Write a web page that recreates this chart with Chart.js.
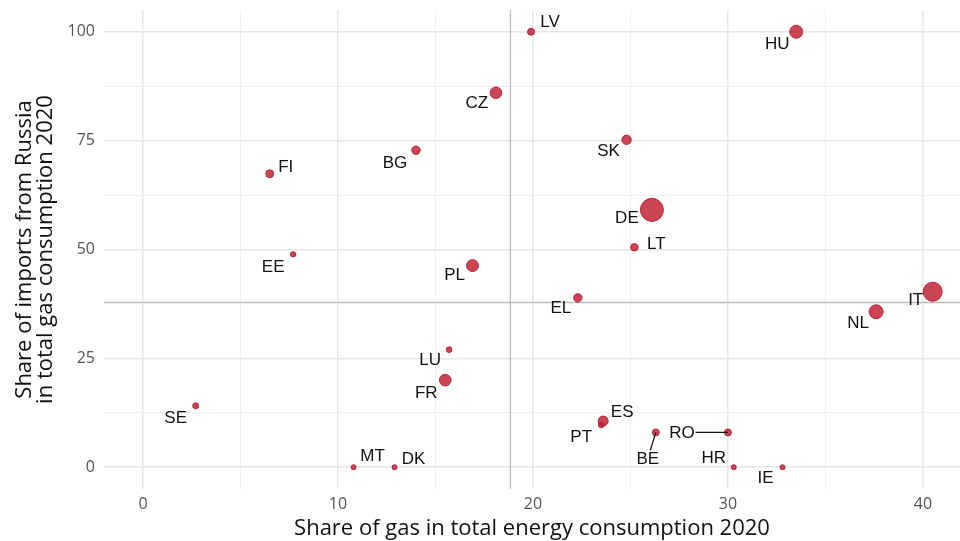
<!DOCTYPE html>
<html>
<head>
<meta charset="utf-8">
<script src="https://cdn.jsdelivr.net/npm/chart.js@4"></script>
<style>
  html, body { margin: 0; padding: 0; background: #fff; }
  #wrap { width: 960px; height: 541px; }
</style>
</head>
<body>
<div id="wrap"><canvas id="gasChart"></canvas></div>
<script>
// ############ data ############

const countries = ["LV", "HU", "CZ", "BG", "SK", "FI", "EE", "DE", "LT", "PL", "EL", "LU",
                   "FR", "PT", "ES", "MT", "DK", "SE", "BE", "RO", "HR", "IE", "NL", "IT"];
// share of gas in total energy consumption 2020 (%)
const gasShare = [19.9, 33.5, 18.1, 14.0, 24.8, 6.5, 7.7, 26.1, 25.2, 16.9, 22.3, 15.7,
                  15.5, 23.5, 23.6, 10.8, 12.9, 2.7, 26.3, 30.0, 30.3, 32.8, 37.6, 40.5];
// share of imports from Russia in total gas consumption 2020 (%)
const russiaShare = [100, 100, 86, 72.8, 75.2, 67.4, 48.9, 59.1, 50.5, 46.3, 38.9, 27.0,
                     20.0, 9.7, 10.6, 0, 0, 14.1, 8.0, 8.0, 0, 0, 35.7, 40.3];
// relative gas volume (bubble area)
const gasVolume = [16, 49, 40, 22, 27, 20, 10, 144, 18, 42, 22, 11,
                   40, 11, 30, 9, 9, 12, 16, 16, 9, 9, 56, 100];

const xTicks = [0, 10, 20, 30, 40];
const yTicks = [0, 25, 50, 75, 100];

// reference lines
const refX = 18.84;
const refY = 37.86;

// label nudges in px from the point centre (repel style)
const labelNudge = {
    LV: [19, -10], HU: [-19, 12], CZ: [-19, 10], BG: [-21, 12], SK: [-18, 11],
    FI: [16, -7], EE: [-20, 12], DE: [-25, 7], LT: [22, -4], PL: [-18, 9],
    EL: [-17, 9], LU: [-19, 10], FR: [-19, 12], ES: [19, -10], PT: [-20, 11],
    MT: [19, -12], DK: [19, -9], SE: [-20, 11], BE: [-8, 26], RO: [-46, 0],
    HR: [-20, -10], IE: [-17, 10], NL: [-18, 11], IT: [-17, 8],
};
const withLeader = ["BE", "RO"];

const bubbles = countries.map((c, i) => ({
    x: gasShare[i],
    y: russiaShare[i],
    r: Math.sqrt(gasVolume[i]) - 0.5,
    label: c,
}));

// ############ plugins ############

const refLines = {
    id: "refLines",
    beforeDatasetsDraw(chart) {
        const { ctx, chartArea, scales } = chart;
        const px = scales.x.getPixelForValue(refX);
        const py = scales.y.getPixelForValue(refY);
        ctx.save();
        ctx.strokeStyle = "#adadad";
        ctx.lineWidth = 1;
        ctx.beginPath();
        ctx.moveTo(px, chartArea.top);
        ctx.lineTo(px, chartArea.bottom);
        ctx.moveTo(chartArea.left, py);
        ctx.lineTo(chartArea.right, py);
        ctx.stroke();
        ctx.restore();
    },
};

const pointLabels = {
    id: "pointLabels",
    afterDatasetsDraw(chart) {
        const { ctx } = chart;
        const meta = chart.getDatasetMeta(0);
        ctx.save();
        ctx.font = "17px 'Liberation Sans', Arial, sans-serif";
        ctx.textAlign = "center";
        ctx.textBaseline = "middle";
        meta.data.forEach((pt, i) => {
            const name = countries[i];
            const [dx, dy] = labelNudge[name];
            const lx = pt.x + dx;
            const ly = pt.y + dy;
            if (withLeader.includes(name)) {
                const hw = ctx.measureText(name).width / 2 + 1;
                const hh = 8;
                const t = Math.min(
                    dx !== 0 ? hw / Math.abs(dx) : Infinity,
                    dy !== 0 ? hh / Math.abs(dy) : Infinity
                );
                ctx.strokeStyle = "#111";
                ctx.lineWidth = 1.3;
                ctx.beginPath();
                ctx.moveTo(lx - dx * t, ly - dy * t);
                ctx.lineTo(pt.x, pt.y);
                ctx.stroke();
            }
            ctx.fillStyle = "#111";
            ctx.fillText(name, lx, ly + 1);
        });
        ctx.restore();
    },
};

// ############ chart ############

const axisFont = { family: "'Open Sans', sans-serif", size: 16 };
const titleFont = { family: "'Open Sans', sans-serif", size: 22, lineHeight: 0.95 };

function gridColor(c) {
    return c.tick && c.tick.major ? "#e6e6e6" : "#efefef";
}

function noPadding(scale) {
    scale.paddingLeft = 0;
    scale.paddingRight = 0;
    scale.paddingTop = 0;
    scale.paddingBottom = 0;
}

new Chart(document.getElementById("gasChart"), {
    type: "bubble",
    data: {
        datasets: [
            {
                data: bubbles,
                backgroundColor: "rgba(192, 28, 48, 0.82)",
                borderColor: "rgba(180, 25, 45, 0.9)",
                borderWidth: 1,
                clip: false,
            },
        ],
    },
    options: {
        responsive: true,
        maintainAspectRatio: false,
        animation: false,
        events: [],
        layout: { autoPadding: false, padding: { top: 10, right: 0, left: 0, bottom: 0 } },
        plugins: {
            legend: { display: false },
            tooltip: { enabled: false },
        },
        scales: {
            x: {
                type: "linear",
                min: -2,
                max: 41.9,
                afterBuildTicks(scale) {
                    const t = [];
                    for (let v = 0; v <= 40; v += 5) t.push({ value: v, major: xTicks.includes(v) });
                    scale.ticks = t;
                },
                afterFit(scale) {
                    scale.height = 52;
                    noPadding(scale);
                },
                ticks: {
                    autoSkip: false,
                    maxRotation: 0,
                    padding: 6,
                    color: "#555",
                    font: axisFont,
                    callback: (v) => (xTicks.includes(v) ? String(v) : ""),
                },
                grid: {
                    drawTicks: false,
                    color: gridColor,
                    lineWidth: (c) => (c.tick && c.tick.major ? 1.5 : 1),
                },
                border: { display: false },
                title: {
                    display: true,
                    text: "Share of gas in total energy consumption 2020",
                    color: "#111",
                    font: titleFont,
                    padding: { top: 0, bottom: 2 },
                },
            },
            y: {
                type: "linear",
                min: -5,
                max: 105,
                afterBuildTicks(scale) {
                    const t = [];
                    for (let v = 0; v <= 100; v += 12.5) t.push({ value: v, major: yTicks.includes(v) });
                    scale.ticks = t;
                },
                afterFit(scale) {
                    scale.width = 104;
                    noPadding(scale);
                },
                ticks: {
                    autoSkip: false,
                    padding: 9,
                    color: "#555",
                    font: axisFont,
                    callback: (v) => (yTicks.includes(v) ? String(v) : ""),
                },
                grid: {
                    drawTicks: false,
                    color: gridColor,
                    lineWidth: (c) => (c.tick && c.tick.major ? 1.5 : 1),
                },
                border: { display: false },
                title: {
                    display: true,
                    text: ["Share of imports from Russia", "in total gas consumption 2020"],
                    color: "#111",
                    font: titleFont,
                    padding: { top: 14, bottom: 0 },
                },
            },
        },
    },
    plugins: [refLines, pointLabels],
});
</script>
</body>
</html>
